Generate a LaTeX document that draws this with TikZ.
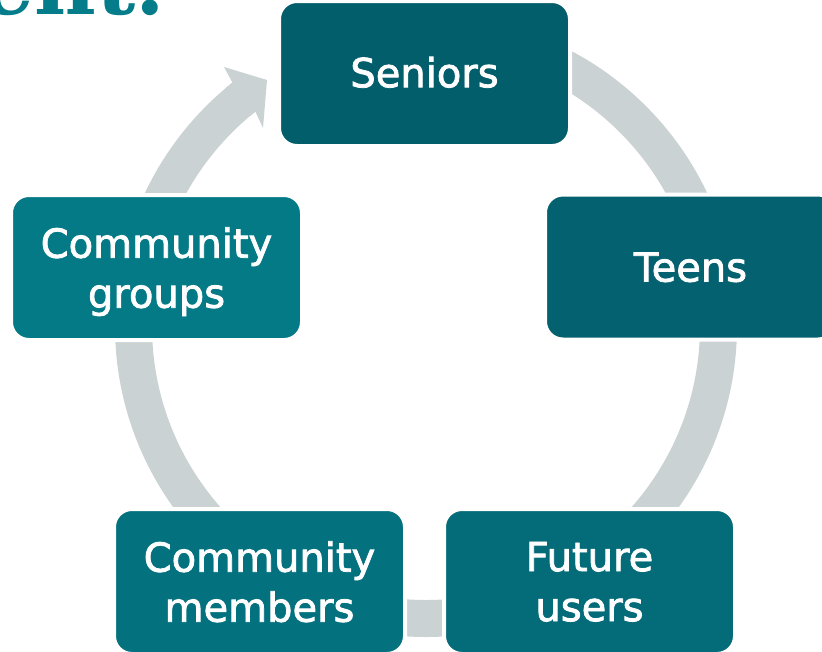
\documentclass[tikz,border=0pt]{standalone}
\usepackage{fontspec}
\setmainfont{DejaVu Sans}
\newfontfamily\stagefont{DejaVu Sans}[FakeBold=2]
\newfontfamily\headfont{DejaVu Serif}

\definecolor{ringgray}{RGB}{203,210,212}
\definecolor{headteal}{RGB}{4,124,137}
\definecolor{cSeniors}{RGB}{3,94,108}
\definecolor{cTeens}{RGB}{4,97,111}
\definecolor{cGroups}{RGB}{4,122,134}
\definecolor{cMembers}{RGB}{4,113,127}
\definecolor{cFuture}{RGB}{4,107,121}

\begin{document}
\begin{tikzpicture}[x=1pt,y=-1pt,
  stagebox/.style={rounded corners=18pt, draw=white, line width=4pt,
    minimum width=291pt, minimum height=145pt, inner sep=0pt,
    text=white, align=center, text depth=0pt,
    font=\stagefont\fontsize{40}{50}\selectfont},
  ring/.style={draw=ringgray, line width=37pt},
  ringhead/.style={fill=ringgray}]
\useasboundingbox (0,0) rectangle (822,651);
\begin{scope}
\clip (0,0) rectangle (822,651);

% heading, running off the top edge
\node[anchor=base west, inner sep=0pt, text=headteal,
  font=\headfont\bfseries\fontsize{85}{85}\selectfont] (heading) at (-20,14) {ent.};

% circular arrow behind the stages
\coordinate (hub) at (426,326);
\coordinate (ringstart) at (426,33.5);
\draw[ring] (ringstart) arc[start angle=90, end angle=-231.5, radius=292.5pt] coordinate (ringend);
\fill[ringhead] (226.1,87.8) -- (232.4,82.6) -- (224,67) -- (267,80)
  -- (263,128) -- (255.4,111.6) -- (249.9,116.1) -- cycle;

% stages of the cycle
\node[stagebox, fill=cSeniors, text depth=3pt] (seniors) at (424.5,73.5) {Seniors};
\node[stagebox, fill=cTeens]   (teens)   at (690.5,267) {Teens};
\node[stagebox, fill=cFuture]  (future)  at (589.5,581.5) {Future\\users};
\node[stagebox, fill=cMembers] (members) at (259.5,581.5) {Community\\members};
\node[stagebox, fill=cGroups]  (groups)  at (156.5,267.5) {Community\\groups};
\end{scope}
\end{tikzpicture}
\end{document}
